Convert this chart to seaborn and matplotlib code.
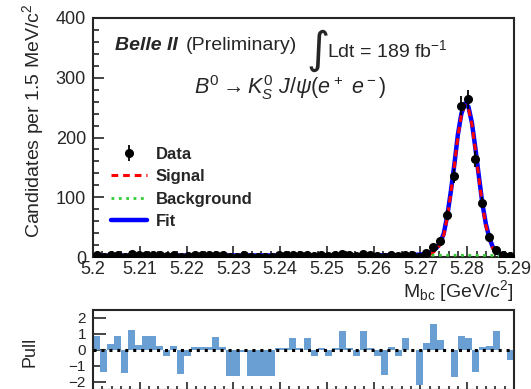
import numpy as np
import matplotlib
matplotlib.use("Agg")
import matplotlib.pyplot as plt
import seaborn as sns
from matplotlib.ticker import MultipleLocator, FormatStrFormatter

# --- data ---
bin_lo, bin_hi, bin_w = 5.20, 5.29, 0.0015
counts = [4, 0, 3, 4, 0, 5, 3, 4, 4, 3, 2, 3, 0, 2, 3, 3, 3, 4, 3, 0,
          0, 3, 0, 0, 0, 0, 3, 3, 4, 3, 4, 2, 3, 2, 3, 5, 3, 2, 5, 3,
          2, 0, 3, 2, 4, 3, 0, 6, 17, 27, 70, 135, 253, 264, 164, 91, 33, 11, 4, 2]
pulls = [0.85, -1.4, 0.35, 0.85, -1.45, 1.25, 0.3, 0.85, 0.85, 0.25,
         -0.35, 0.25, -1.5, -0.35, 0.2, 0.2, 0.2, 0.8, 0.2, -1.6,
         -1.6, -0.1, -1.6, -1.6, -1.6, -1.6, 0.15, 0.15, 0.75, 0.1,
         0.75, -0.4, 0.1, -0.4, 0.1, 1.2, 0.1, -0.4, 1.2, 0.15,
         -0.4, -1.55, 0.2, -0.35, 0.75, 0.0, -2.2, 0.45, 1.6, 0.65,
         0.0, -1.7, 0.85, 0.75, -1.35, 0.2, 0.25, 1.2, 0.0, -0.6]

curve_mass = [5.200, 5.220, 5.240, 5.260, 5.266, 5.268, 5.2698, 5.2705, 5.27125,
              5.2720, 5.27275, 5.2735, 5.27425, 5.2750, 5.27575, 5.2765, 5.27725,
              5.2780, 5.27875, 5.2795, 5.28025, 5.2810, 5.28175, 5.2825, 5.28325,
              5.2840, 5.28475, 5.2855, 5.28625, 5.2870, 5.28775, 5.2885, 5.28925, 5.2900]
bkg_curve = [2.2, 2.4, 2.6, 2.8, 2.85, 2.9, 2.9, 2.9, 2.9, 2.9, 2.9, 2.9, 2.9, 2.9,
             2.9, 2.9, 2.9, 2.85, 2.85, 2.8, 2.8, 2.8, 2.75, 2.7, 2.7, 2.65, 2.6,
             2.5, 2.4, 2.3, 2.1, 1.8, 1.3, 0.0]
sig_curve = [0.0, 0.0, 0.0, 0.0, 0.1, 0.3, 1.1, 1.6, 2.3, 4.1, 8.1, 13, 21, 37, 67,
             107, 152, 202, 237, 254, 249, 222, 179, 132, 86, 52, 29, 13.5, 5.6,
             2.7, 1.4, 0.7, 0.2, 0.0]

edges = np.arange(len(counts) + 1) * bin_w + bin_lo
centers = edges[:-1] + bin_w / 2
counts = np.array(counts, dtype=float)
fit_curve = np.array(sig_curve) + np.array(bkg_curve)

sns.set_style("ticks")
plt.rcParams["font.family"] = ["Liberation Sans", "DejaVu Sans"]
plt.rcParams["mathtext.fontset"] = "custom"
plt.rcParams["mathtext.rm"] = "Liberation Sans"
plt.rcParams["mathtext.it"] = "Liberation Sans:italic"
plt.rcParams["mathtext.bf"] = "Liberation Sans:bold"

W, H = 531, 389
fig = plt.figure(figsize=(W / 100, H / 100), dpi=100)
ax = fig.add_axes([93 / W, 1 - 257 / H, (514 - 93) / W, (257 - 18) / H])
axp = fig.add_axes([93 / W, 1 - 390 / H, (514 - 93) / W, (390 - 310) / H])

# main panel
sns.lineplot(x=curve_mass, y=fit_curve, ax=ax, color="#0000ff", lw=3.2, label="Fit", zorder=2)
sns.lineplot(x=curve_mass, y=sig_curve, ax=ax, color="#ff0000", lw=2.2, zorder=3,
             label="Signal", dashes=False)
ax.lines[-1].set_dashes([2.2, 1.6])
sns.lineplot(x=curve_mass, y=bkg_curve, ax=ax, color="#33cc33", lw=2.0, zorder=3,
             label="Background", dashes=False)
ax.lines[-1].set_linestyle(":")
data_h = ax.errorbar(centers, counts, yerr=np.sqrt(counts), fmt="o", color="black",
                     ms=5.5, elinewidth=1.3, capsize=0, zorder=5)

ax.set_xlim(bin_lo, bin_hi)
ax.set_ylim(0, 400)
ax.xaxis.set_major_locator(MultipleLocator(0.01))
ax.xaxis.set_minor_locator(MultipleLocator(0.002))
ax.xaxis.set_major_formatter(FormatStrFormatter("%g"))
ax.yaxis.set_major_locator(MultipleLocator(100))
ax.yaxis.set_minor_locator(MultipleLocator(20))
ax.tick_params(which="both", direction="in", labelsize=13, width=1.2)
ax.tick_params(which="major", length=8)
ax.tick_params(which="minor", length=4)
ax.tick_params(axis="x", pad=3)
ax.tick_params(axis="y", pad=5)
for s in ax.spines.values():
    s.set_linewidth(1.5)
ax.set_xlabel(r"M$_{\rm bc}$ [GeV/c$^2$]", fontsize=14, loc="right", labelpad=0)
ax.set_ylabel("")

handles, labels = ax.get_legend_handles_labels()
hmap = dict(zip(labels, handles))
leg = ax.legend([data_h, hmap["Signal"], hmap["Background"], hmap["Fit"]],
                ["Data", "Signal", "Background", "Fit"],
                loc="upper left", bbox_to_anchor=(104 / W, 1 - 140 / H),
                bbox_transform=fig.transFigure, frameon=False,
                prop={"weight": "bold", "size": 12}, handlelength=2.2,
                handletextpad=0.5, labelspacing=0.45, borderaxespad=0)

fig.text(20 / W, 1 - 3 / H, r"Candidates per 1.5 MeV/c$^2$", rotation=90,
         fontsize=14, ha="left", va="top")
fig.text(115 / W, 1 - 45 / H, "Belle II", fontsize=14, fontweight="bold",
         fontstyle="italic", ha="left", va="center")
fig.text(186 / W, 1 - 45 / H, "(Preliminary)", fontsize=14, ha="left", va="center")
fig.text(306 / W, 1 - 50 / H, "\u222b", fontsize=32, family="DejaVu Sans",
         ha="left", va="center")
fig.text(327 / W, 1 - 50 / H, r"Ldt = 189 fb$^{\mathregular{-1}}$", fontsize=14,
         ha="left", va="center")
fig.text(290 / W, 1 - 88 / H, r"$B^0 \rightarrow K^0_S\ J/\psi(e^+\ e^-)$",
         fontsize=15.5, ha="center", va="center")

# pull panel
axp.bar(centers, pulls, width=bin_w, color="#6a9fd4", edgecolor="none", zorder=2)
axp.axhline(0, color="black", lw=2.2, ls=(0, (1, 1.6)), zorder=3)
axp.set_xlim(bin_lo, bin_hi)
axp.set_ylim(-2.5, 2.5)
axp.yaxis.set_major_locator(MultipleLocator(1))
axp.xaxis.set_major_locator(MultipleLocator(0.01))
axp.xaxis.set_minor_locator(MultipleLocator(0.002))
axp.set_xticklabels([])
axp.tick_params(which="both", direction="in", labelsize=11, width=1.2)
axp.tick_params(axis="y", which="major", length=9, pad=5)
axp.tick_params(axis="x", which="major", length=6)
axp.tick_params(axis="x", which="minor", length=3)
for s in axp.spines.values():
    s.set_linewidth(1.5)
fig.text(30 / W, 1 - 352 / H, "Pull", rotation=90, fontsize=13,
         ha="center", va="center")

fig.savefig("out.png", dpi=100)
